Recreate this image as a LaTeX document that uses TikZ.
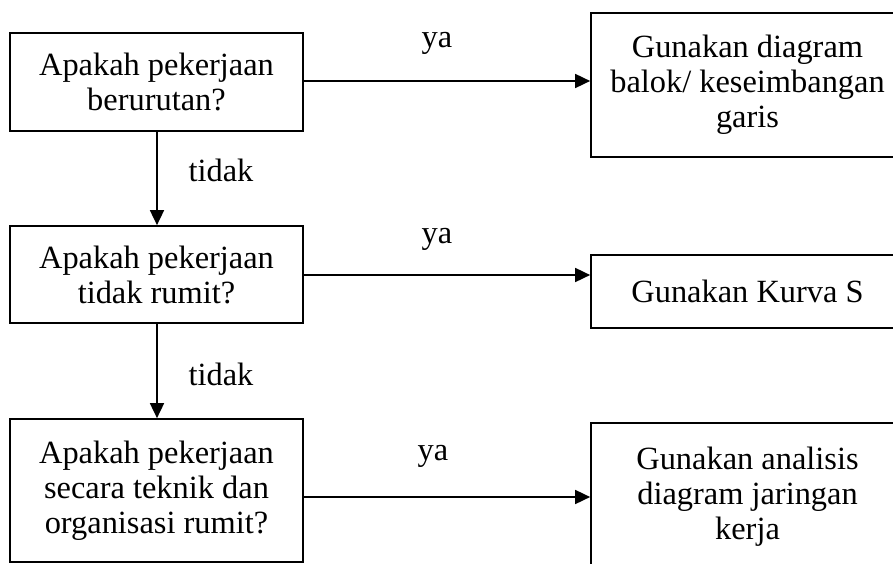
\documentclass[tikz,border=0pt]{standalone}
\usepackage{fontspec}
\setmainfont{Liberation Serif}
\usetikzlibrary{arrows.meta}
\begin{document}
\begin{tikzpicture}[x=1pt,y=-1pt,
  box/.style={draw,line width=1.7pt,rectangle,align=center,inner sep=0pt,
    font=\fontsize{32.4}{35}\selectfont},
  lbl/.style={anchor=base,inner sep=0pt,font=\fontsize{32.4}{35}\selectfont},
  conn/.style={line width=1.7pt,-{Triangle[length=15pt,width=14pt]}}]
\clip (0,0) rectangle (893,564);
% left decision boxes
\node[box,minimum width=293pt,minimum height=98pt] (q1) at (156.5,82) {Apakah pekerjaan\\berurutan?};
\node[box,minimum width=293pt,minimum height=97pt] (q2) at (156.5,274.5) {Apakah pekerjaan\\tidak rumit?};
\node[box,minimum width=293pt,minimum height=143pt] (q3) at (156.5,490.5) {Apakah pekerjaan\\secara teknik dan\\organisasi rumit?};
% right result boxes
\node[box,minimum width=313pt,minimum height=144pt] (r1) at (747.5,85) {Gunakan diagram\\balok/ keseimbangan\\garis};
\node[box,minimum width=313pt,minimum height=73pt] (r2) at (747.5,291.5) {Gunakan Kurva S};
\node[box,minimum width=313pt,minimum height=147pt] (r3) at (747.5,496.5) {Gunakan analisis\\diagram jaringan\\kerja};
% connectors
\coordinate (a1) at (303,81);
\coordinate (a2) at (303,275);
\coordinate (a3) at (303,497);
\draw[conn] (a1) -- (a1 -| r1.west);
\draw[conn] (a2) -- (a2 -| r2.west);
\draw[conn] (a3) -- (a3 -| r3.west);
\coordinate (v1) at (157,131);
\coordinate (v2) at (157,323);
\draw[conn] (v1) -- (v1 |- q2.north);
\draw[conn] (v2) -- (v2 |- q3.north);
% labels
\node[lbl] (ya1) at (437,48) {ya};
\node[lbl] (ya2) at (437,243) {ya};
\node[lbl] (ya3) at (433,460) {ya};
\node[lbl] (t1) at (221,182) {tidak};
\node[lbl] (t2) at (221,385) {tidak};
\end{tikzpicture}
\end{document}
